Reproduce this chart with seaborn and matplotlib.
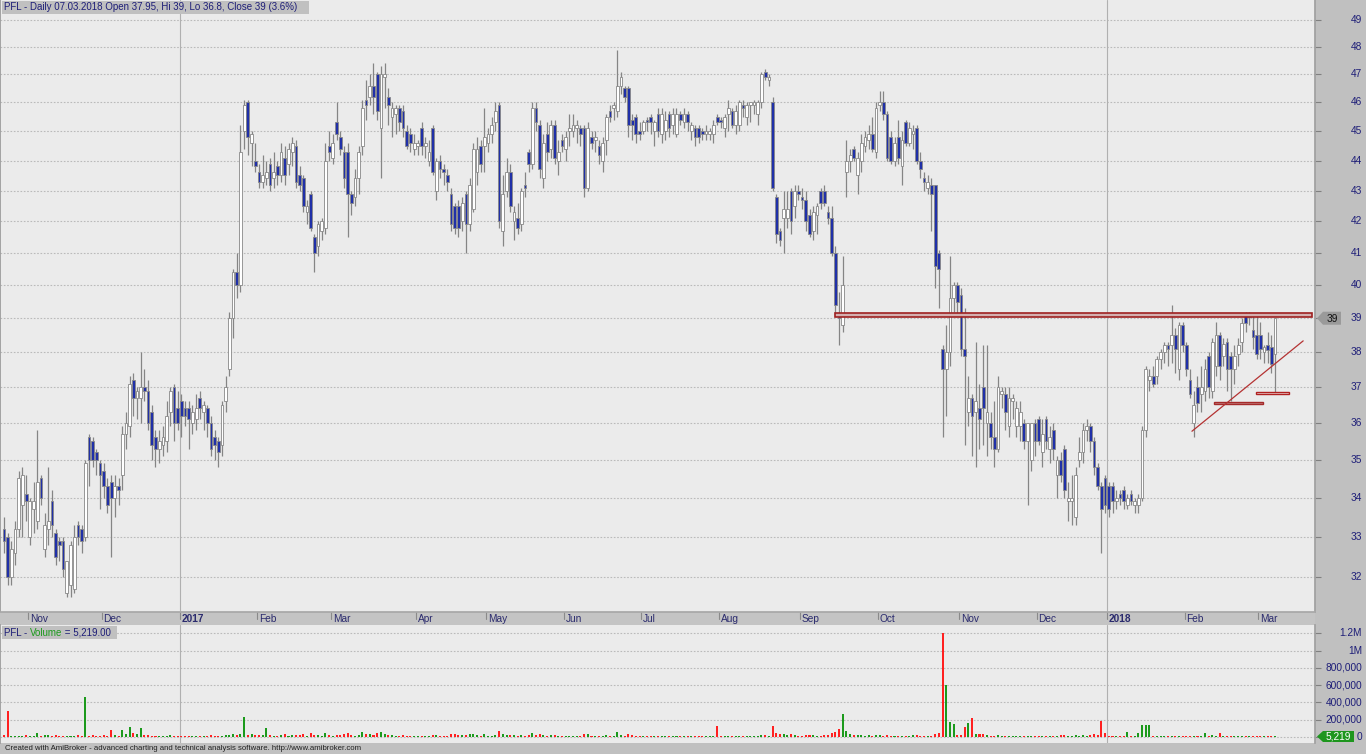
import numpy as np
import pandas as pd
import matplotlib
matplotlib.use("Agg")
import matplotlib.pyplot as plt
import seaborn as sns
from matplotlib.patches import Rectangle, Polygon
from matplotlib.transforms import blended_transform_factory
from matplotlib.ticker import NullLocator, NullFormatter

# ---------------- data (daily bars, PFL) ----------------
session_start = "2016-10-21"
session_end = "2018-03-07"
exchange_holidays = ["2016-11-01", "2016-11-11", "2016-12-26", "2017-01-06", "2017-04-17",
                     "2017-05-01", "2017-05-03", "2017-06-15", "2017-08-15", "2017-11-01",
                     "2017-12-25", "2017-12-26", "2018-01-01", "2018-01-02"]

opens = [
    33.2, 33.0, 32.0, 32.6, 33.2, 33.8, 34.1,
    33.0, 33.7, 33.4, 34.5, 32.7, 33.2, 33.9, 33.1, 32.9, 32.9, 31.6, 31.8, 31.7, 33.3, 33.2, 33.0, 35.6, 35.5, 35.2, 34.9,
    34.7, 34.3, 34.4, 34.0, 34.3, 34.6, 35.7, 35.9, 37.2, 36.7, 36.7, 37.0, 36.9, 36.3, 35.6, 35.3, 35.4, 35.5, 36.3, 37.0, 36.4,
    36.6, 36.4, 36.4, 36.0, 36.1, 36.7, 36.3, 36.4, 36.0, 35.6, 35.5, 35.4, 36.6, 37.5, 39.0, 40.4, 40.0, 45.0, 46.0, 44.6, 44.0,
    43.6, 43.3, 43.4, 43.9, 43.4, 43.8, 43.5, 44.1, 43.9, 44.3, 44.5, 43.5, 43.4, 42.3, 42.9, 41.5, 41.2, 41.7, 41.8, 44.5,
    44.1, 45.3, 44.8, 44.3, 44.3, 42.9, 42.8, 43.4, 44.5, 46.1, 46.2, 46.6, 47.0, 45.1, 46.9, 46.2, 45.5, 45.6, 45.8, 45.7, 45.0, 44.9, 44.4,
    44.5, 45.1, 44.5, 44.0, 45.1, 43.0, 44.0, 43.7, 43.5, 42.9, 42.5, 42.5, 42.0, 42.9, 41.9, 42.4, 43.6, 44.5, 44.5,
    44.6, 44.9, 45.3, 45.9, 41.7, 43.0, 43.6, 42.0, 42.1, 41.9, 43.2, 44.3, 43.9, 45.8, 45.2, 43.4, 44.9, 44.4, 45.2, 44.0, 44.7,
    44.4, 45.0, 45.0, 45.1, 45.1, 45.1, 43.1, 44.8, 44.7, 44.5, 44.0, 44.7, 45.7, 45.8, 45.7, 46.6, 46.5, 46.5, 45.4, 45.5, 45.0,
    45.0, 45.4, 45.5, 45.0, 45.6, 44.9, 45.0, 45.6, 45.2, 44.9, 45.6, 45.3, 45.6, 45.0, 45.1, 45.1, 45.0, 44.9, 44.9, 44.9, 45.5,
    45.4, 45.1, 45.6, 45.7, 45.2, 45.2, 45.9, 45.5, 45.9, 45.9, 45.6, 46.0, 47.1, 46.8, 46.0, 42.8, 41.7, 42.1, 42.1, 43.0, 42.5, 43.0,
    42.8, 42.7, 42.2, 41.7, 42.2, 43.0, 43.0, 42.3, 42.1, 41.0, 39.15, 38.8, 43.6, 44.0, 44.4, 43.5, 44.0, 44.5, 44.7, 44.9, 44.3,
    45.9, 46.0, 45.6, 44.8, 44.0, 44.8, 43.8, 45.3, 44.6, 44.9, 45.1, 44.0, 43.4, 43.1, 43.2, 43.2, 41.0, 38.1, 37.5, 38.0, 39.6, 40.0,
    39.7, 38.1, 36.3, 36.7, 36.3, 36.4, 37.0, 36.0, 36.0, 35.6, 35.3, 36.8, 36.8, 35.9, 36.6, 35.9, 35.9, 36.0, 35.5, 35.0, 36.0,
    36.1, 35.2, 36.1, 35.3, 35.8, 34.6, 35.0, 35.3, 33.9, 33.9, 33.5, 35.0, 35.2, 35.8, 35.9, 35.5, 34.8, 34.3, 34.5,
    34.3, 34.3, 33.9, 34.1, 34.2, 33.8, 34.1, 33.8, 33.8, 34.0, 35.8, 37.2, 37.3, 37.3, 37.8, 38.0, 38.2, 38.2, 38.5, 37.5, 38.8,
    38.2, 37.2, 36.0, 37.0, 36.8, 36.9, 37.9, 36.9, 37.6, 38.5, 37.9, 38.3, 37.9, 37.5, 37.95, 38.3, 39.1, 39.05, 38.65, 38.5,
    38.5, 38.0, 38.2, 38.15, 37.95,
]
highs = [
    33.5, 33.1, 32.9, 33.4, 34.7, 34.8, 34.6,
    34.0, 34.4, 35.8, 34.6, 33.6, 34.8, 34.2, 33.2, 33.0, 33.0, 32.4, 32.9, 33.3, 33.4, 33.3, 35.0, 35.7, 35.6, 35.3, 35.0,
    34.9, 34.5, 34.6, 34.6, 34.5, 35.9, 36.3, 37.3, 37.4, 37.0, 38.0, 37.5, 37.2, 36.5, 35.8, 35.8, 35.9, 36.6, 37.0, 37.1, 36.9,
    36.8, 36.6, 36.6, 36.5, 36.8, 36.9, 36.6, 36.5, 36.2, 35.8, 35.6, 36.6, 37.3, 39.2, 40.5, 41.0, 45.2, 46.1, 46.1, 45.0, 44.6,
    43.9, 44.2, 44.0, 44.1, 44.3, 44.0, 44.6, 44.5, 44.6, 44.8, 44.7, 43.8, 43.5, 42.7, 43.0, 41.6, 42.0, 42.1, 44.6, 45.0,
    44.9, 46.0, 45.0, 44.5, 44.6, 43.0, 43.7, 44.5, 46.1, 46.8, 47.0, 47.4, 47.1, 47.3, 47.4, 46.5, 46.0, 45.9, 45.9, 45.9, 45.2, 45.1, 44.9,
    44.7, 45.3, 44.8, 44.7, 45.2, 44.1, 44.2, 43.9, 43.7, 43.1, 42.6, 42.7, 42.8, 43.0, 43.4, 44.6, 44.8, 44.7, 45.8,
    45.1, 45.5, 46.0, 46.0, 43.5, 44.1, 43.9, 42.5, 42.6, 43.1, 43.6, 44.4, 46.0, 46.0, 45.4, 44.9, 45.3, 45.4, 45.4, 44.7, 44.9,
    45.0, 45.6, 45.6, 45.4, 45.2, 45.2, 45.3, 45.0, 45.0, 44.7, 44.8, 45.6, 45.9, 46.0, 47.9, 47.1, 46.6, 46.6, 45.6, 45.6, 45.3,
    45.4, 45.5, 45.6, 45.4, 45.8, 45.8, 45.7, 45.7, 45.8, 45.8, 45.7, 45.8, 45.7, 45.3, 45.2, 45.2, 45.1, 45.2, 45.1, 45.4, 45.6,
    45.5, 45.6, 46.1, 45.8, 45.9, 46.1, 46.1, 46.0, 46.0, 46.1, 46.1, 47.1, 47.2, 47.0, 46.2, 42.9, 41.8, 43.0, 43.0, 43.1, 43.2, 43.2,
    43.1, 43.0, 42.4, 42.5, 42.6, 43.1, 43.2, 42.5, 42.5, 41.2, 39.8, 40.9, 44.7, 44.4, 44.5, 44.3, 44.9, 45.0, 45.2, 45.5, 46.0,
    46.4, 46.4, 45.7, 45.0, 44.8, 45.4, 45.0, 45.4, 45.3, 45.2, 45.2, 44.3, 43.6, 43.5, 43.4, 43.2, 41.1, 38.2, 38.8, 40.9, 40.1, 40.1,
    39.9, 39.3, 37.3, 36.8, 38.3, 37.1, 38.2, 38.2, 36.3, 36.6, 37.3, 37.0, 37.0, 37.0, 36.8, 36.6, 36.6, 36.1, 36.0, 36.0, 36.1,
    36.2, 36.1, 36.2, 35.9, 36.0, 35.1, 35.2, 35.4, 34.4, 34.6, 34.8, 35.6, 36.0, 36.1, 36.0, 35.6, 34.9, 34.4, 34.6,
    34.4, 34.4, 34.2, 34.2, 34.3, 34.1, 34.2, 34.0, 34.1, 35.9, 37.6, 37.5, 37.6, 37.9, 38.1, 38.3, 38.3, 39.4, 38.7, 38.9, 38.9,
    38.3, 37.5, 36.9, 37.3, 37.6, 37.8, 38.0, 38.4, 38.9, 38.6, 38.4, 38.4, 38.0, 38.2, 38.4, 39.0, 39.2, 39.2, 39.1, 39.1,
    38.9, 38.2, 38.6, 38.5, 39.0,
]
lows = [
    32.6, 31.8, 31.8, 32.3, 33.0, 33.0, 33.4,
    32.8, 33.1, 33.2, 33.8, 32.5, 32.8, 33.0, 32.3, 32.4, 32.0, 31.5, 31.5, 31.6, 32.8, 32.6, 32.9, 34.3, 34.8, 34.6, 33.7,
    34.0, 33.6, 32.5, 33.5, 33.8, 34.2, 35.3, 35.6, 36.2, 36.1, 36.0, 36.6, 35.8, 35.0, 34.8, 34.9, 35.1, 35.2, 35.9, 35.5, 35.8,
    35.6, 35.9, 35.3, 35.7, 35.8, 36.1, 35.8, 35.6, 35.1, 35.0, 34.8, 35.1, 36.3, 37.3, 38.4, 39.6, 39.8, 44.4, 44.2, 43.8, 43.6,
    43.1, 43.1, 43.2, 43.0, 43.1, 43.2, 43.3, 43.2, 43.5, 43.8, 43.1, 43.0, 42.3, 41.9, 41.7, 40.4, 40.9, 41.4, 41.6, 44.0,
    43.9, 44.7, 44.2, 43.1, 41.5, 42.2, 42.5, 42.9, 44.2, 45.4, 45.9, 45.6, 45.4, 43.4, 45.8, 45.2, 44.8, 44.9, 45.0, 44.8, 44.4, 44.3, 44.2,
    44.2, 44.2, 44.1, 43.8, 43.5, 42.7, 43.4, 43.2, 43.0, 41.7, 41.6, 41.5, 41.7, 41.0, 41.7, 42.3, 43.2, 43.6, 43.6,
    44.3, 44.6, 45.0, 41.8, 41.2, 42.8, 42.3, 41.4, 41.6, 41.7, 42.8, 43.6, 43.7, 45.0, 43.4, 43.1, 44.0, 44.1, 43.9, 43.5, 44.3,
    44.0, 44.5, 44.8, 44.6, 44.5, 42.8, 43.0, 44.4, 44.3, 43.9, 43.6, 44.2, 45.3, 45.4, 45.5, 46.3, 46.0, 44.8, 44.7, 44.6, 44.7,
    44.9, 45.0, 44.9, 44.5, 44.8, 44.6, 44.7, 44.8, 44.9, 44.8, 45.2, 45.1, 45.0, 44.7, 44.5, 44.6, 44.7, 44.7, 44.7, 44.6, 45.2,
    45.1, 44.8, 45.0, 45.1, 44.9, 45.0, 45.5, 45.2, 45.3, 45.6, 45.2, 45.8, 46.8, 46.6, 43.0, 41.3, 41.2, 41.0, 41.8, 41.6, 42.1, 42.7,
    42.4, 41.7, 41.5, 41.4, 41.6, 42.4, 42.5, 41.9, 40.9, 39.1, 38.2, 38.6, 42.8, 43.6, 44.0, 42.9, 43.6, 44.3, 44.4, 44.3, 44.1,
    45.7, 45.4, 44.0, 43.9, 43.8, 43.9, 43.2, 44.5, 44.5, 44.4, 43.9, 43.4, 43.0, 42.9, 41.7, 39.9, 39.3, 35.6, 36.2, 37.6, 39.2, 39.1,
    37.9, 35.4, 35.9, 35.1, 34.8, 35.3, 35.4, 35.1, 35.3, 34.8, 35.2, 36.4, 35.8, 35.6, 36.1, 35.6, 35.5, 35.3, 33.8, 34.7, 35.1,
    35.4, 34.8, 35.3, 34.9, 35.0, 34.0, 34.4, 34.0, 33.4, 33.3, 33.3, 34.8, 34.9, 35.5, 35.2, 34.6, 34.2, 32.6, 33.6,
    33.5, 33.6, 33.7, 33.8, 33.7, 33.7, 33.8, 33.6, 33.6, 33.9, 35.6, 36.9, 37.0, 37.1, 37.5, 37.7, 37.6, 37.7, 37.4, 37.2, 38.0,
    37.3, 36.7, 35.6, 36.3, 36.3, 36.6, 36.7, 36.7, 37.3, 37.2, 37.6, 36.9, 36.6, 37.1, 37.6, 38.0, 38.6, 38.8, 38.1, 37.8,
    37.8, 37.7, 37.7, 37.4, 36.8,
]
closes = [
    32.9, 32.0, 32.7, 33.2, 34.5, 34.6, 33.9,
    33.9, 33.9, 34.4, 34.0, 33.3, 33.4, 33.3, 32.5, 32.8, 32.2, 32.4, 32.8, 33.0, 33.0, 32.9, 34.9, 35.0, 35.0, 35.0, 34.6,
    34.3, 33.8, 34.0, 34.3, 34.2, 35.7, 36.0, 37.1, 36.7, 36.9, 37.0, 36.9, 36.0, 35.4, 35.3, 35.5, 35.6, 36.2, 36.9, 36.0, 36.0,
    36.2, 36.2, 36.1, 36.3, 36.4, 36.4, 36.5, 36.0, 35.3, 35.4, 35.2, 36.5, 37.0, 39.0, 40.4, 40.0, 44.3, 45.9, 44.8, 44.9, 43.8,
    43.3, 43.5, 43.6, 43.2, 43.6, 43.5, 44.3, 43.5, 44.4, 44.6, 43.3, 43.2, 42.5, 42.5, 41.8, 41.0, 41.9, 42.0, 44.0, 44.3,
    44.6, 44.9, 44.4, 43.4, 42.9, 42.6, 43.4, 44.3, 45.8, 45.9, 46.6, 46.2, 45.7, 47.0, 47.0, 45.9, 45.8, 45.8, 45.3, 45.1, 44.5, 44.6, 44.6,
    44.6, 44.5, 44.6, 44.3, 43.6, 44.0, 43.7, 43.6, 43.3, 41.9, 41.8, 41.8, 42.6, 41.9, 43.2, 44.4, 44.4, 43.9, 44.8,
    44.9, 45.2, 45.7, 42.0, 42.9, 43.6, 42.5, 42.3, 41.8, 43.0, 43.1, 43.9, 45.8, 45.3, 43.7, 44.6, 44.3, 45.2, 44.1, 44.3, 44.5,
    44.8, 45.1, 45.2, 45.2, 44.9, 43.1, 45.1, 44.6, 44.8, 44.2, 44.6, 45.5, 45.5, 45.9, 46.6, 46.9, 46.2, 45.2, 45.2, 44.9, 44.9,
    45.3, 45.3, 45.3, 45.3, 45.0, 45.6, 45.4, 45.1, 45.6, 45.6, 45.4, 45.6, 45.3, 45.2, 44.8, 44.8, 44.9, 45.0, 45.0, 45.2, 45.3,
    45.3, 45.5, 45.8, 45.2, 45.7, 46.0, 45.8, 45.9, 46.0, 46.0, 46.0, 47.0, 46.9, 46.9, 43.1, 41.6, 41.4, 42.4, 42.4, 42.0, 43.0, 42.9,
    42.7, 42.0, 41.6, 42.3, 42.5, 42.6, 42.6, 42.1, 41.0, 39.4, 39.0, 40.0, 44.0, 44.2, 44.1, 44.1, 44.6, 44.8, 44.9, 44.4, 45.8,
    46.0, 45.6, 44.1, 44.0, 44.6, 44.1, 44.7, 44.6, 45.1, 45.0, 44.0, 43.7, 43.3, 43.3, 42.9, 40.6, 40.5, 37.5, 38.0, 39.6, 40.0, 39.5,
    38.1, 37.9, 36.7, 36.2, 36.6, 36.1, 36.4, 36.3, 35.6, 35.3, 37.0, 36.9, 36.3, 36.7, 36.7, 36.4, 36.3, 35.5, 36.0, 36.0, 35.5,
    35.5, 35.7, 35.5, 35.6, 35.3, 35.0, 34.6, 34.2, 34.0, 34.0, 34.6, 35.2, 35.8, 35.9, 35.5, 34.8, 34.3, 33.7, 33.8,
    33.7, 33.9, 34.0, 34.0, 33.9, 34.0, 33.9, 33.9, 34.0, 35.8, 37.5, 37.3, 37.1, 37.8, 38.0, 38.2, 38.1, 38.5, 38.1, 38.8, 38.2,
    37.5, 36.8, 36.5, 36.55, 37.0, 37.5, 37.0, 38.3, 38.5, 37.6, 38.25, 37.5, 37.5, 37.9, 38.2, 38.85, 38.85, 39.12, 38.45, 37.95,
    38.1, 38.15, 38.05, 37.65, 39.0,
]
volume_thousands = [
    22, 300, 12, 8, 14, 10, 25,
    15, 10, 40, 12, 20, 18, 12, 25, 10, 14, 9, 12, 8, 18, 11, 460, 15, 22, 12, 9,
    20, 14, 80, 18, 10, 80, 30, 115, 50, 30, 100, 18, 25, 12, 10, 8, 12, 15, 20, 14, 10,
    12, 9, 15, 10, 12, 8, 10, 14, 18, 10, 12, 15, 20, 25, 30, 18, 30, 230, 25, 35, 20,
    18, 22, 100, 20, 15, 12, 25, 30, 15, 20, 18, 22, 35, 15, 40, 25, 18, 12, 45, 20,
    15, 20, 25, 30, 45, 20, 15, 25, 60, 30, 35, 25, 40, 55, 30, 20, 18, 15, 12, 20, 15, 10, 12,
    10, 12, 8, 15, 25, 20, 12, 10, 14, 35, 30, 25, 20, 22, 30, 35, 25, 15, 30,
    15, 12, 20, 70, 35, 20, 25, 18, 15, 22, 10, 25, 40, 20, 30, 18, 15, 20, 25, 12, 10,
    10, 14, 12, 8, 10, 35, 30, 12, 10, 15, 12, 20, 15, 12, 60, 25, 15, 30, 20, 15, 12,
    10, 8, 12, 10, 15, 12, 10, 14, 10, 12, 8, 10, 12, 9, 15, 12, 10, 8, 12, 10, 130,
    12, 10, 15, 12, 10, 14, 10, 12, 15, 10, 12, 25, 20, 15, 130, 50, 30, 30, 25, 35, 20, 15,
    15, 20, 25, 18, 12, 15, 20, 25, 45, 60, 90, 260, 70, 30, 20, 25, 18, 15, 20, 12, 25,
    20, 15, 18, 12, 10, 15, 12, 10, 14, 20, 18, 12, 10, 12, 15, 30, 45, 1200, 600, 175, 150, 20,
    25, 115, 160, 220, 30, 30, 35, 20, 15, 12, 18, 10, 12, 15, 10, 12, 14, 10, 12, 15, 10,
    12, 10, 14, 10, 12, 15, 18, 20, 12, 10, 25, 15, 20, 12, 18, 30, 20, 190, 45,
    15, 12, 10, 12, 10, 60, 12, 10, 50, 140, 140, 140, 12, 10, 8, 12, 10, 9, 12, 10, 15,
    12, 10, 8, 12, 10, 45, 15, 18, 12, 45, 15, 10, 12, 9, 10, 8, 12, 10, 9, 11,
    8, 10, 7, 9, 5.219,
]

price_ticks = [32, 33, 34, 35, 36, 37, 38, 39, 40, 41, 42, 43, 44, 45, 46, 47, 48, 49]
volume_ticks = [0, 200000, 400000, 600000, 800000, 1000000, 1200000]
volume_tick_labels = ["0", "200,000", "400,000", "600,000", "800,000", "1M", "1.2M"]

# chart annotations (drawn lines / zones): bar-index spans and price levels
resistance_span = [224.9, 354.0]
resistance_levels = [39.03, 39.17]
support_zone_span = [327.5, 340.7]
support_zone_levels = [36.52, 36.59]
low_zone_span = [338.8, 347.8]
low_zone_levels = [36.80, 36.86]
trend_x = [321.5, 351.6]
trend_y = [35.77, 38.33]

# ---------------- figure ----------------
sns.set_theme(style="white")
plt.rcParams["font.family"] = ["Liberation Sans", "DejaVu Sans"]

sessions = pd.bdate_range(session_start, session_end, freq="C", holidays=exchange_holidays)
df = pd.DataFrame({"date": sessions, "open": opens, "high": highs, "low": lows,
                   "close": closes, "volume": np.array(volume_thousands) * 1000.0})
df["bar"] = np.arange(len(df))
df["dir"] = np.where(df["close"] > df["open"], "up", "down")

W, H = 1366, 754
fig = plt.figure(figsize=(W / 100, H / 100), dpi=100)
fig.patch.set_facecolor("#c0c0c0")


def px_axes(x0, y0, x1, y1):
    return fig.add_axes([x0 / W, 1 - y1 / H, (x1 - x0) / W, (y1 - y0) / H])


PR = 1315
ax = px_axes(0, 0, PR, 612)
axd = px_axes(0, 612, PR, 625)
axv = px_axes(0, 625, PR, 743)
XL = (-1.08, 354.8)

NAVY = "#1e1e78"
GRID = "#bababa"

# ---- price pane ----
ax.set_facecolor("#ebebeb")
ax.set_yscale("log")
for p in price_ticks:
    ax.axhline(p, color=GRID, lw=0.8, ls=(0, (1.5, 1.5)), zorder=0)

year_starts = [i for i in range(1, len(df)) if df["date"][i].year != df["date"][i - 1].year]
month_starts = [i for i in range(1, len(df)) if df["date"][i].month != df["date"][i - 1].month]
for j in year_starts:
    ax.axvline(j - 0.5, color="#b0b0b0", lw=0.8, zorder=1)
    axv.axvline(j - 0.5, color="#b0b0b0", lw=0.8, zorder=1)

ax.vlines(df["bar"], df["low"], df["high"], color="#858585", lw=0.9, zorder=2)
body_lo = np.minimum(df["open"], df["close"])
body_hi = np.maximum(df["open"], df["close"])
ax.bar(df["bar"], body_hi - body_lo, bottom=body_lo, width=0.74,
       color=np.where(df["dir"] == "up", "#ffffff", "#2030a8"),
       edgecolor="#888888", linewidth=0.6, zorder=3)

# annotations
ax.add_patch(Rectangle((resistance_span[0], resistance_levels[0]), resistance_span[1] - resistance_span[0],
                       resistance_levels[1] - resistance_levels[0], facecolor="#d4b0b0",
                       edgecolor="#9e2020", lw=1.2, zorder=4))
ax.add_patch(Rectangle((support_zone_span[0], support_zone_levels[0]), support_zone_span[1] - support_zone_span[0],
                       support_zone_levels[1] - support_zone_levels[0], facecolor="#c48686",
                       edgecolor="#a52a2a", lw=1.0, zorder=4))
ax.add_patch(Rectangle((low_zone_span[0], low_zone_levels[0]), low_zone_span[1] - low_zone_span[0],
                       low_zone_levels[1] - low_zone_levels[0], facecolor="#f2eaea",
                       edgecolor="#b02020", lw=1.0, zorder=4))
ax.plot(trend_x, trend_y, color="#b43232", lw=0.9, zorder=4)

ax.set_ylim(31.15, 49.75)
ax.set_xlim(XL)
ax.set_yticks(price_ticks)
ax.yaxis.set_minor_locator(NullLocator())
ax.yaxis.set_minor_formatter(NullFormatter())
ax.tick_params(axis="y", which="both", left=False, right=True, labelleft=False, labelright=False,
               length=4, width=0.8, color="#808080")
ax.tick_params(axis="x", bottom=False, labelbottom=False)
for s in ["top", "bottom"]:
    ax.spines[s].set_visible(False)
ax.spines["left"].set_color("#9a9a9a")
ax.spines["right"].set_color("#a0a0a0")
ax.set_xlabel("")
ax.set_ylabel("")

# ---- date band ----
axd.set_facecolor("#c4c4c4")
axd.set_xlim(XL)
axd.set_ylim(0, 1)
axd.set_xticks([])
axd.set_yticks([])
for s in ["left", "right", "bottom"]:
    axd.spines[s].set_visible(False)
axd.spines["top"].set_color("#a8a8a8")
for m in month_starts:
    d = df["date"][m]
    lab = str(d.year) if d.month == 1 else d.strftime("%b")
    axd.plot([m - 0.5, m - 0.5], [0.45, 1.0], color="#8a8a8a", lw=0.8)
    axd.text(m - 0.5 + 0.45, 0.45, lab, ha="left", va="center", fontsize=7.3, color="#2b2b6e",
             fontweight="bold" if d.month == 1 else "normal")

# ---- volume pane (seaborn) ----
axv.set_facecolor("#ebebeb")
for v in volume_ticks:
    axv.axhline(v, color=GRID, lw=0.8, ls=(0, (1.5, 1.5)), zorder=0)
sns.barplot(data=df, x="bar", y="volume", hue="dir", palette={"up": "#1c9a1c", "down": "#ff2020"},
            native_scale=True, width=0.55, dodge=False, errorbar=None, legend=False,
            saturation=1, linewidth=0, ax=axv, zorder=2)
axv.set_xlim(XL)
axv.set_ylim(-70000, 1295000)
axv.set_yticks(volume_ticks)
axv.tick_params(axis="y", left=False, right=True, labelleft=False, labelright=False,
                length=4, width=0.8, color="#808080")
axv.tick_params(axis="x", bottom=False, labelbottom=False)
axv.set_xlabel("")
axv.set_ylabel("")
for s in ["top", "bottom"]:
    axv.spines[s].set_visible(False)
axv.spines["left"].set_color("#9a9a9a")
axv.spines["right"].set_color("#a0a0a0")

# ---- overlay (pixel coordinates) ----
ov = fig.add_axes([0, 0, 1, 1])
ov.set_xlim(0, W)
ov.set_ylim(H, 0)
ov.axis("off")

tp = blended_transform_factory(ov.transData, ax.transData)
for p in price_ticks:
    ov.text(1362, p, str(p), transform=tp, ha="right", va="center", fontsize=7.3, color=NAVY)
tv = blended_transform_factory(ov.transData, axv.transData)
for v, lab in zip(volume_ticks, volume_tick_labels):
    ov.text(1362, v, lab, transform=tv, ha="right", va="center", fontsize=7.3, color=NAVY)

# last price marker
yc = H - ax.transData.transform((0, df["close"].iloc[-1]))[1]
ov.add_patch(Polygon([(1317, yc), (1323, yc - 6.5), (1341, yc - 6.5), (1341, yc + 6.5), (1323, yc + 6.5)],
                     closed=True, facecolor="#9a9a9a", edgecolor="none"))
ov.text(1332, yc + 0.5, f"{df['close'].iloc[-1]:g}", ha="center", va="center", fontsize=7.3, color="#111111")

# last volume marker
last_vol = df["volume"].iloc[-1]
yv = H - axv.transData.transform((0, last_vol))[1]
ov.add_patch(Polygon([(1317, yv), (1323, yv - 5.5), (1354, yv - 5.5), (1354, yv + 5.5), (1323, yv + 5.5)],
                     closed=True, facecolor="#1e961e", edgecolor="none"))
ov.text(1338, yv + 0.5, f"{last_vol:,.0f}", ha="center", va="center", fontsize=7.3, color="white")

# title
last = df.iloc[-1]
prev_close = df["close"].iloc[-2]
chg = (last["close"] / prev_close - 1) * 100
title = (f"PFL - Daily {last['date']:%d.%m.%Y} Open {last['open']:g}, Hi {last['high']:g}, "
         f"Lo {last['low']:g}, Close {last['close']:g} ({chg:.1f}%)")
ov.add_patch(Rectangle((2, 1), 307, 13, facecolor="#c0c0c0", edgecolor="none"))
ov.text(4, 7.5, title, ha="left", va="center", fontsize=7.0, color=NAVY)

# volume label
ov.add_patch(Rectangle((2, 626), 115, 13, facecolor="#c0c0c0", edgecolor="none"))
t1 = ov.text(4, 632.5, "PFL - ", ha="left", va="center", fontsize=7.0, color=NAVY)
t2 = ov.annotate("Volume", xy=(1, 0.5), xycoords=t1, ha="left", va="center", fontsize=7.0, color="#1c9a1c")
t3 = ov.annotate(f" = {last_vol:,.2f}", xy=(1, 0.5), xycoords=t2, ha="left", va="center", fontsize=7.0, color=NAVY)

# footer
ov.text(5, 748.5, "Created with AmiBroker - advanced charting and technical analysis software. http://www.amibroker.com",
        ha="left", va="center", fontsize=5.6, color="#202020")

fig.savefig("out.png", dpi=100, facecolor=fig.get_facecolor())
